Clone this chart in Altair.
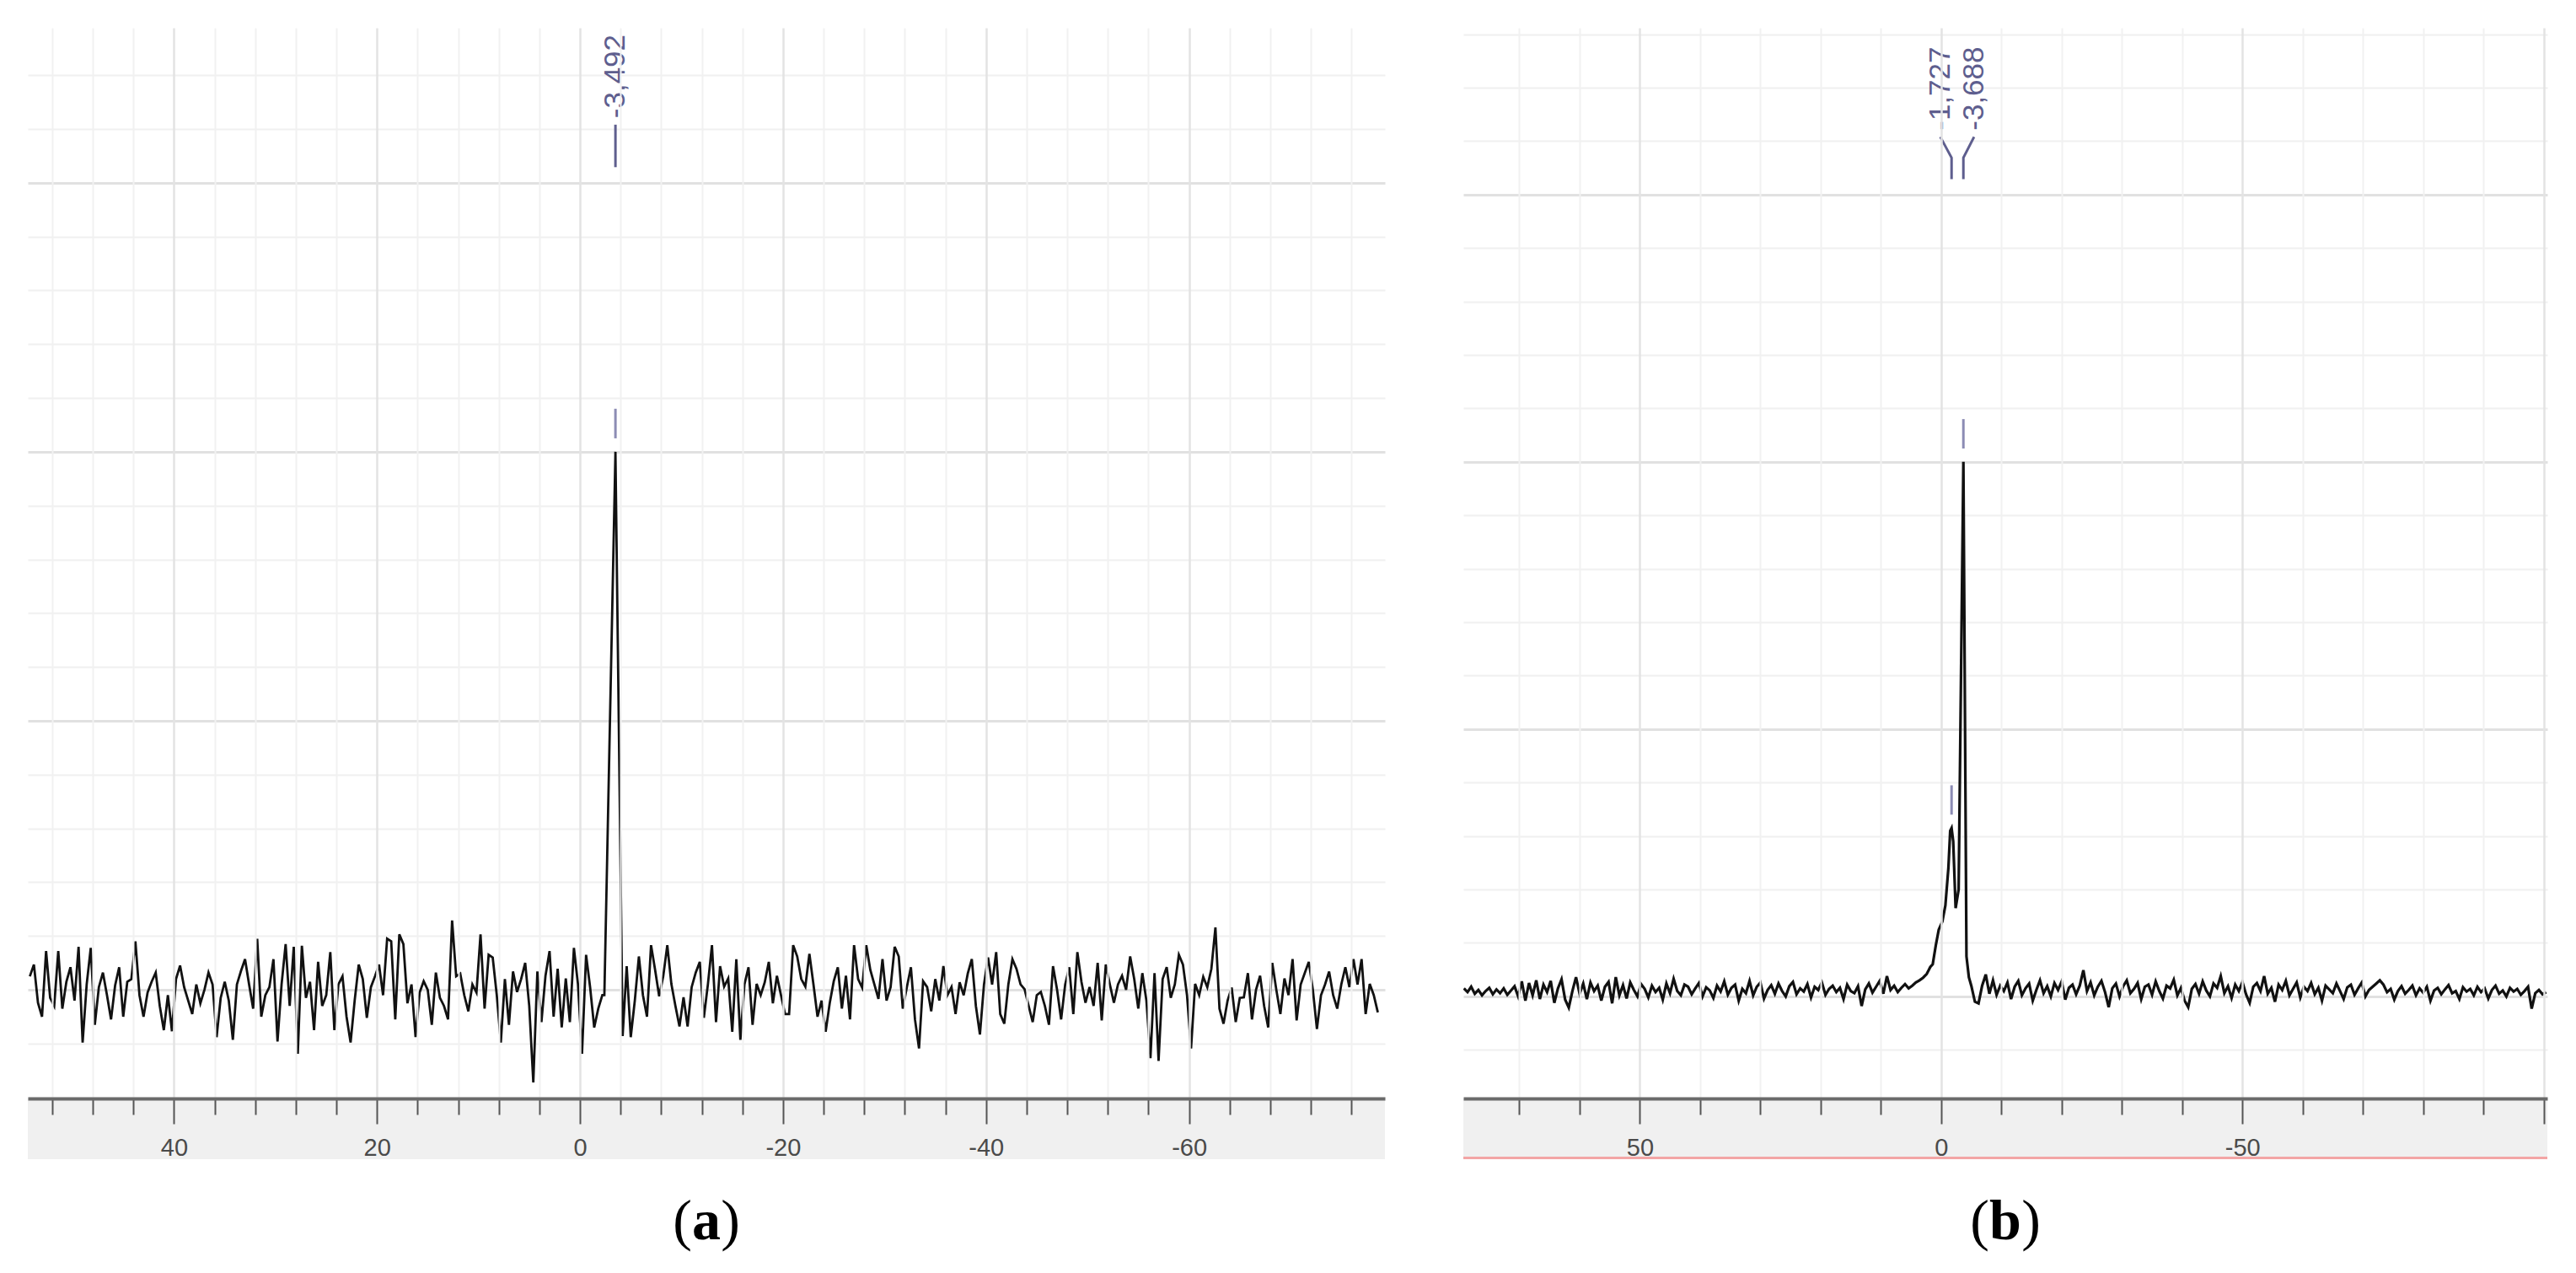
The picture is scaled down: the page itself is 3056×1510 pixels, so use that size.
import altair as alt
import pandas as pd

SANS = "Liberation Sans, Arial, sans-serif"
SERIF = "Liberation Serif, Times New Roman, serif"
ANN = "#5e5e8e"
ANN_TICK = "#8c8cb4"

# ---------------- panel (a): single signal at -3.492 ppm ----------------
A_X_DOMAIN = [-79.3, 54.4]
A_Y_DOMAIN = [-20.2, 178.8]
A_START_LEFT = 54.2
A_START_RIGHT = -4.6
A_STEP = 0.4
a_left = [2.5, 4.7, -2.4, -5.0, 7.2, -1.5, -3.0, 7.2, -3.5, 1.5,
          4.2, -2.0, 8.0, -9.8, 1.0, 7.8, -6.5, 0.5, 3.2, -1.0,
          -5.5, 0.8, 4.2, -5.0, 1.5, 2.0, 9.0, -1.0, -5.0, -0.5,
          1.5, 3.2, -3.0, -7.5, -1.0, -7.7, 2.0, 4.5, 0.5, -2.0,
          -4.5, 1.0, -2.5, 0.0, 3.2, 1.0, -8.8, -1.5, 1.5, -2.0,
          -9.3, 1.0, 3.5, 5.7, 1.0, -3.5, 9.5, -5.0, -1.0, 0.5,
          5.7, -9.6, 1.0, 8.5, -3.0, 8.0, -11.9, 8.2, -1.5, 1.5,
          -7.5, 5.2, -3.0, -1.0, 7.0, -7.5, 1.0, 2.5, -5.0, -9.8,
          -2.0, 4.7, 2.0, -5.2, 0.5, 2.5, 4.7, -1.0, 9.5, 9.0,
          -5.5, 10.3, 8.5, -2.5, 1.0, -8.8, -0.5, 1.6, 0.0, -6.5,
          3.2, -1.5, -3.0, -5.5, 12.9, 2.5, 3.0, -1.0, -4.0, 1.0,
          -0.5, 10.3, -3.5, 6.5, 6.0, -1.0, -9.8, 2.0, -6.5, 3.4,
          -0.4, 2.0, 5.0, -3.0, -17.2, 3.4, -6.0, 2.6, 7.2, -5.0,
          3.9, -7.0, 2.1, -6.0, 7.8, 1.0, -11.9, 6.5, 0.4, -7.0,
          -3.5, -1.0]
a_peak_ppm = [-2.4, -3.492, -4.2]
a_peak_int = [-1.0, 100.0, -8.6]
a_right = [4.4, -8.8, -2.0, 6.2, -1.0, -5.0, 8.3, 3.7, -1.2, 2.5,
           8.3, 1.1, -3.0, -6.8, -1.4, -6.8, 0.5, 3.2, 5.2, -5.2,
           1.0, 8.3, -6.0, 4.4, 0.6, 2.1, -7.8, 5.7, -9.3, 1.0,
           4.2, -6.5, 1.1, -1.0, 1.4, 5.2, -2.5, 2.6, -1.0, -4.5,
           -4.5, 8.3, 6.2, 2.0, 0.6, 6.7, 1.0, -5.0, -2.0, -7.8,
           -2.5, 1.6, 4.2, -3.5, 2.6, -5.5, 8.3, 2.0, 0.4, 8.3,
           3.7, 1.0, -1.7, 5.7, -2.0, 0.5, 8.0, 6.2, -3.5, 0.5,
           4.2, -5.5, -10.9, 1.6, 0.5, -4.0, 2.0, -2.0, 4.4, -1.0,
           0.5, -4.5, 1.4, -1.0, 3.0, 5.7, -3.0, -8.3, 1.0, 6.0,
           1.0, 7.0, -4.5, -6.3, 1.0, 5.7, 3.9, 1.0, 0.1, -3.0,
           -6.0, -1.0, -0.4, -3.0, -6.5, 4.4, 0.0, -5.5, 1.0, 4.2,
           -4.5, 7.0, 1.5, -2.4, 0.5, -3.0, 5.0, -5.7, 4.7, 1.0,
           -2.4, 1.0, 2.6, 0.0, 6.2, 2.0, -3.5, 3.1, -2.0, -12.7,
           3.1, -13.2, 2.0, 4.2, -1.5, 1.0, 6.5, 4.7, -1.0, -10.9,
           1.1, -1.0, 2.4, 0.5, 3.9, 11.6, -3.5, -6.3, -2.0, 0.4,
           -6.0, -1.5, -1.4, 3.1, -5.5, 0.0, 2.6, -3.0, -7.0, 5.0,
           0.0, -4.5, 2.1, -1.0, 5.7, -5.7, 1.0, 3.1, 5.2, 0.0,
           -7.3, -1.0, 1.0, 3.4, -1.0, -3.5, 1.0, 4.2, 0.5, 5.7,
           1.0, 5.7, -4.5, 1.1, -1.0, -4.2]
a_xticks = list(range(52, -77, -4))
a_ygrid = list(range(-20, 171, 10))
a_labels = ["-3,492"]
a_label_ppm = [-3.492]
a_signal_ppm = [-3.492]
a_signal_int = [100.0]

# ---------------- panel (b): signals at -1.727 and -3.688 ppm ----------------
B_X_DOMAIN = [-100.6, 79.3]
B_Y_DOMAIN = [-19.1, 181.2]
B_START_LEFT = 79.2
B_START_RIGHT = -5.0
B_STEP = 0.6
b_left = [1.5, 0.8, 1.8, 0.5, 1.2, 0.2, 1.0, 1.6, 0.4, 1.3,
          0.6, 1.5, 0.3, 1.1, 1.9, 0.0, 2.8, -0.8, 2.5, 0.2,
          3.0, -0.5, 2.2, 0.8, 2.9, -1.2, 1.5, 3.2, -0.6, -2.1,
          1.0, 3.6, 0.5, 2.4, -0.5, 2.6, 1.0, 2.0, -0.8, 1.8,
          2.7, -1.3, 3.6, 0.2, 2.1, -0.4, 2.6, 1.2, 0.0, 2.3,
          1.4, -0.2, 2.0, 0.8, 1.6, -0.6, 2.4, 0.6, 3.3, 1.0,
          0.2, 2.2, 1.8, 0.4, 1.5, 2.5, 0.0, 1.7, 1.1, -0.3,
          2.0, 0.9, 2.8, 0.3, 1.6, 2.2, -0.8, 1.4, 0.6, 2.9,
          0.2, 1.8, 2.6, -0.4, 1.2, 2.1, 0.5, 2.4, 1.0, 0.0,
          1.9, 2.7, 0.4, 1.5, 0.9, 2.3, -0.2, 1.8, 1.2, 2.6,
          0.3, 1.4, 2.0, 0.8, 1.6, -0.5, 2.2, 1.0, 0.6, 1.9,
          -1.8, 1.3, 2.4, 0.7, 1.8, 2.9, 0.5, 3.8, 1.2, 2.0,
          0.8, 1.6, 2.3, 1.5, 2.0, 2.6, 3.0, 3.5, 4.2, 5.5]
b_peak_ppm = [1.4, 0.9, 0.4, -0.2, -0.7, -1.2, -1.5, -1.727, -2.0, -2.4, -2.9, -3.688, -4.2, -4.6]
b_peak_int = [6.0, 9.5, 12.5, 14.0, 17.0, 24.0, 31.0, 31.5, 29.0, 16.5, 20.0, 100.0, 7.5, 3.6]
b_right = [2.0, -1.0, -1.3, 2.0, 4.1, 0.5, 3.0, 0.3, 2.0,
           1.0, 2.6, -0.5, 1.8, 2.9, 0.2, 1.5, 2.4, -0.8, 1.2, 3.0, 0.6,
           1.9, 0.0, 2.5, 1.2, 2.8, -0.6, 1.6, 2.2, 0.4, 2.0, 4.9,
           1.0, 2.6, 0.2, 1.8, 2.9, 0.8, -2.0, 1.5, 2.4,
           0.0, 1.9, 3.0, 0.6, 1.4, 2.5, -0.5, 1.8, 2.2, 0.3,
           2.8, 1.0, -0.4, 2.0, 1.5, 3.1, 0.2, 1.6, -0.8, -2.0,
           1.4, 2.3, 0.5, 2.8, 1.1, 0.0, 2.4, 1.6, 3.8, 0.6,
           1.9, -0.3, 2.2, 1.0, 2.7, 0.4, -1.2, 1.8, 2.5, 1.0,
           3.8, 0.5, 1.6, -1.0, 2.2, 1.2, 2.9, 0.2, 1.4, 2.6,
           -0.2, 1.8, 1.0, 2.5, 0.4, 1.6, -0.8, 2.0, 1.3, 0.6,
           2.4, 1.0, -0.5, 1.7, 2.2, 0.3, 1.5, 2.6, 0.0, 1.2,
           1.8, 2.4, 3.0, 2.2, 0.8, 1.4, -0.6, 1.0, 1.9, 0.5,
           1.2, 2.0, 0.2, 1.5, 0.7, 1.8, -0.8, 1.1, 1.6, 0.4,
           1.3, 2.1, 0.6, 1.0, -0.5, 1.7, 0.9, 1.4, 0.2, 1.8,
           0.8, 1.5, -0.4, 1.2, 2.0, 0.5, 1.1, 0.0, 1.6, 0.9,
           1.4, 0.3, 1.0, 1.8, -2.3, 0.6, 1.2, 0.4, 0.8]
b_xticks = list(range(70, -101, -10))
b_ygrid = list(range(-10, 181, 10))
b_labels = ["-1,727", "-3,688"]
b_label_ppm = [0.14, -5.46]
b_signal_ppm = [-1.727, -3.688]
b_signal_int = [31.5, 100.0]

# annotation geometry in intensity units
TEXT_Y = 162.0
LEADER_TOP, LEADER_BEND, LEADER_BOTTOM = 160.8, 156.9, 152.9
TICK_GAP, TICK_LEN = 2.5, 5.5


def spectrum(start_l, left, pk_ppm, pk_int, start_r, right, step):
    ppm = ([start_l - step * i for i in range(len(left))] + list(pk_ppm)
           + [start_r - step * i for i in range(len(right))])
    val = list(left) + list(pk_int) + list(right)
    return pd.DataFrame({"ppm": ppm, "val": val})


def panel(df, xdom, ydom, xticks, xmajor, label_limit, ygrid, W, H,
          labels, label_ppm, sig_ppm, sig_int, tag, tag_w, red_line, line_w):
    xs = alt.Scale(domain=xdom, reverse=True, nice=False, zero=False)
    ys = alt.Scale(domain=ydom, nice=False, zero=False)
    x_axis = alt.Axis(
        values=xticks, title=None, grid=True, zindex=1,
        gridColor={"condition": {"test": f"datum.value % {xmajor} === 0", "value": "#e3e3e3"},
                   "value": "#f1f1f1"},
        gridWidth={"condition": {"test": f"datum.value % {xmajor} === 0", "value": 2.5},
                   "value": 2},
        tickColor="#555555", tickWidth=2,
        tickSize={"condition": {"test": f"datum.value % {xmajor} === 0", "value": 30},
                  "value": 19},
        domainColor="#6a6a6a", domainWidth=4,
        labelExpr=(f"datum.value % {xmajor} === 0 && datum.value > {label_limit} "
                   f"? toString(datum.value) : ''"),
        labelFont=SANS, labelFontSize=29, labelColor="#4a4a4a",
        labelPadding=14, labelOverlap=False, labelFlush=False,
    )
    y_axis = alt.Axis(
        values=ygrid, title=None, grid=True, labels=False, ticks=False, domain=False,
        gridColor={"condition": {"test": "datum.value % 50 === 0", "value": "#e1e1e1"},
                   "value": "#f0f0f0"},
        gridWidth={"condition": {"test": "datum.value % 50 === 0", "value": 3},
                   "value": 2.2},
    )

    def X(field):
        return alt.X(field, scale=xs, axis=x_axis)

    def Y(field):
        return alt.Y(field, scale=ys, axis=y_axis)

    one = pd.DataFrame({"k": [0]})
    band = alt.Chart(one).mark_rect(color="#f0f0f0").encode(
        x=alt.value(0), x2=alt.value(W), y=alt.value(H), y2=alt.value(H + 72))
    layers = [band]
    if red_line:
        layers.append(alt.Chart(one).mark_rect(color="#f3a5a5").encode(
            x=alt.value(0), x2=alt.value(W), y=alt.value(H + 69), y2=alt.value(H + 72)))
    line = alt.Chart(df).mark_line(color="#111111", strokeWidth=line_w, clip=True).encode(
        x=X("ppm:Q"), y=Y("val:Q"))
    layers.append(line)

    # leader lines from labels to signals
    rows = []
    for k, (lp, sp) in enumerate(zip(label_ppm, sig_ppm)):
        for s, (xv, yv) in enumerate([(lp, LEADER_TOP), (sp, LEADER_BEND), (sp, LEADER_BOTTOM)]):
            rows.append({"grp": k, "s": s, "ppm": xv, "val": yv})
    lead = alt.Chart(pd.DataFrame(rows)).mark_line(color=ANN, strokeWidth=3).encode(
        x=X("ppm:Q"), y=Y("val:Q"), detail="grp:N", order="s:Q")
    layers.append(lead)

    tdf = pd.DataFrame({"ppm": label_ppm, "lab": labels, "val": [TEXT_Y] * len(labels)})
    txt = alt.Chart(tdf).mark_text(angle=270, align="left", baseline="middle",
                                   font=SANS, fontSize=35, color=ANN).encode(
        x=X("ppm:Q"), y=Y("val:Q"), text="lab:N")
    layers.append(txt)

    kdf = pd.DataFrame({"ppm": sig_ppm,
                        "val": [v + TICK_GAP for v in sig_int],
                        "hi": [v + TICK_GAP + TICK_LEN for v in sig_int]})
    ticks = alt.Chart(kdf).mark_rule(color=ANN_TICK, strokeWidth=3).encode(
        x=X("ppm:Q"), y=Y("val:Q"), y2="hi:Q")
    layers.append(ticks)

    # panel tag "(a)" / "(b)" below the panel
    cx = W / 2
    ty = H + 147
    off = 11.5 + tag_w / 2
    for s, dx, wgt in [("(", -off, "normal"), (tag, 0, "bold"), (")", off, "normal")]:
        layers.append(alt.Chart(one).mark_text(
            text=s, font=SERIF, fontSize=68, fontWeight=wgt, color="#000000",
            align="center", baseline="middle").encode(
            x=alt.value(cx + dx), y=alt.value(ty)))

    return alt.layer(*layers).properties(width=W, height=H)


df_a = spectrum(A_START_LEFT, a_left, a_peak_ppm, a_peak_int, A_START_RIGHT, a_right, A_STEP)
df_b = spectrum(B_START_LEFT, b_left, b_peak_ppm, b_peak_int, B_START_RIGHT, b_right, B_STEP)

pa = panel(df_a, A_X_DOMAIN, A_Y_DOMAIN, a_xticks, 20, -100, a_ygrid, 1610, 1270,
           a_labels, a_label_ppm, a_signal_ppm, a_signal_int, "a", 34, False, 2.8)
pb = panel(df_b, B_X_DOMAIN, B_Y_DOMAIN, b_xticks, 50, -100, b_ygrid, 1286, 1270,
           b_labels, b_label_ppm, b_signal_ppm, b_signal_int, "b", 38, True, 3.2)

chart = alt.hconcat(pa, pb, spacing=93).properties(
    padding={"left": 25, "top": 25, "right": 5, "bottom": 5},
    background="white",
).configure_view(strokeWidth=0)

chart.save("out.html", embed_options={"renderer": "svg", "actions": False})
